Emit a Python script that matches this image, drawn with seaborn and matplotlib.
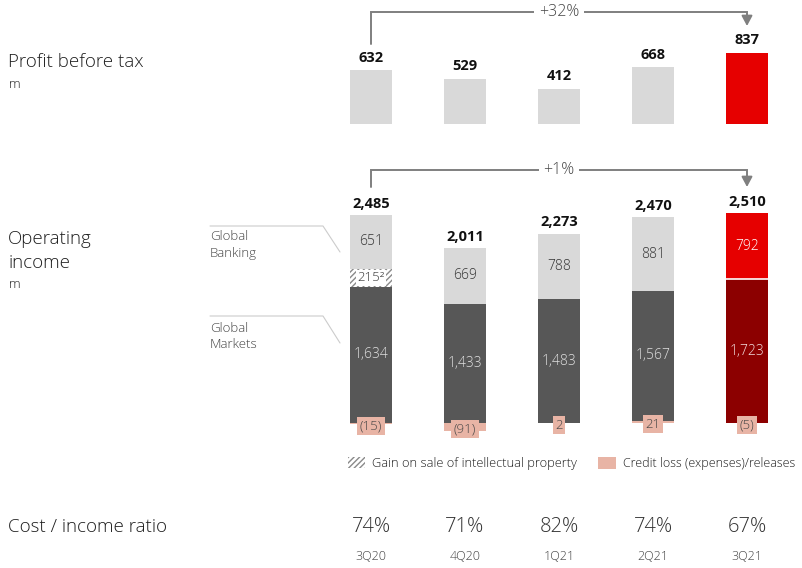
import numpy as np
import pandas as pd
import matplotlib
matplotlib.use("Agg")
import matplotlib.pyplot as plt
import seaborn as sns

# ---------------- data ----------------
quarters = ["3Q20", "4Q20", "1Q21", "2Q21", "3Q21"]
profit_before_tax = [632, 529, 412, 668, 837]
global_banking = [651, 669, 788, 881, 792]
gain_ip = [215, 0, 0, 0, 0]
global_markets = [1634, 1433, 1483, 1567, 1723]
credit_loss = [-15, -91, 2, 21, -5]
op_income_total = [2485, 2011, 2273, 2470, 2510]
cost_income = ["74%", "71%", "82%", "74%", "67%"]
pbt_change = "+32%"
oi_change = "+1%"

# ---------------- style ----------------
sns.set_style("white")
plt.rcParams["font.family"] = ["Open Sans", "DejaVu Sans"]

W, H = 803, 568
fig = plt.figure(figsize=(W / 100, H / 100), dpi=100)

LIGHT = "#d9d9d9"
DARK = "#575757"
RED = "#e60000"
DRED = "#8c0000"
PINK = "#e8b4a5"
TXT = "#1e1e1e"
LW = "light"

def px_axes(x0, y0, x1, y1):
    return fig.add_axes([x0 / W, 1 - y1 / H, (x1 - x0) / W, (y1 - y0) / H])

# overlay axes in pixel coordinates
ov = fig.add_axes([0, 0, 1, 1], zorder=5)
ov.set_xlim(0, W)
ov.set_ylim(H, 0)
ov.axis("off")
ov.patch.set_alpha(0)

BW = 0.45

# ---------------- top panel ----------------
axt = px_axes(324, 0, 794, 124)
dft = pd.DataFrame({"q": quarters, "v": profit_before_tax})
sns.barplot(data=dft, x="q", y="v", width=BW, color=LIGHT, ax=axt, saturation=1)
for i, p in enumerate(axt.patches):
    p.set_facecolor(RED if i == len(quarters) - 1 else LIGHT)
    p.set_edgecolor("none")
axt.set_xlim(-0.5, len(quarters) - 0.5)
axt.set_ylim(0, 1459)
axt.axis("off")
for i, v in enumerate(profit_before_tax):
    axt.annotate(f"{v:,}", (i, v), xytext=(0, 4), textcoords="offset points",
                 ha="center", va="bottom", fontsize=10.5, fontweight="bold", color="#111111")

# ---------------- bottom panel ----------------
axb = px_axes(324, 170, 794, 440)
cl = np.array(credit_loss, float)
gm = np.array(global_markets, float)
gi = np.array(gain_ip, float)
gb = np.array(global_banking, float)
b_gm = np.maximum(cl, 0)
b_gi = b_gm + gm
b_gb = b_gi + gi

def stack(vals, bottoms, colors, **kw):
    n0 = len(axb.patches)
    df = pd.DataFrame({"q": quarters, "v": vals})
    sns.barplot(data=df, x="q", y="v", width=BW, color=colors[0], ax=axb,
                saturation=1, bottom=bottoms, **kw)
    new = axb.patches[n0:]
    for p, c in zip(new, colors):
        p.set_facecolor(c)
    return new

stack(cl, np.zeros(5), [PINK] * 5, linewidth=0)
stack(gm, b_gm, [DARK] * 4 + [DRED], linewidth=0)
hp = stack(gi, b_gi, ["white"] * 5, linewidth=0)
for p in hp:
    p.set_hatch("//////")
    p.set_edgecolor("#8a8a8a")
    p.set_linewidth(0)
stack(gb, b_gb, [LIGHT] * 4 + [RED], linewidth=0)
axb.set_xlim(-0.5, len(quarters) - 0.5)
axb.set_ylim(-204, 3037)
axb.axis("off")

for i in range(len(quarters)):
    last = i == len(quarters) - 1
    top = b_gb[i] + gb[i]
    axb.annotate(f"{op_income_total[i]:,}", (i, top), xytext=(0, 3), textcoords="offset points",
                 ha="center", va="bottom", fontsize=10.5, fontweight="bold", color="#111111")
    axb.text(i, b_gb[i] + gb[i] / 2, f"{global_banking[i]:,}", ha="center", va="center",
             fontsize=10, fontweight=LW, color="white" if last else "#333333")
    axb.text(i, b_gm[i] + gm[i] / 2, f"{global_markets[i]:,}", ha="center", va="center",
             fontsize=10, fontweight=LW, color="#f2dede" if last else "#e0e0e0")
    if gi[i] > 0:
        axb.text(i, b_gi[i] + gi[i] / 2, f"{int(gi[i])}²", ha="center", va="center",
                 fontsize=9.5, fontweight=LW, color="#333333",
                 bbox=dict(boxstyle="square,pad=0.12", fc="white", ec="none"))
    c = credit_loss[i]
    lab = f"({abs(c)})" if c < 0 else f"{c}"
    axb.annotate(lab, (i, c / 2), xytext=(0, -1.5), textcoords="offset points",
                 ha="center", va="center", fontsize=9.5, fontweight=LW, color="#444444",
                 bbox=dict(boxstyle="square,pad=0.2", fc=PINK, ec="none"))
    if last:
        axb.plot([i - BW / 2, i + BW / 2], [b_gb[i], b_gb[i]], color="white", lw=1.2)

# x positions in pixels
def xpx(ax, i):
    return ov.transData.inverted().transform(ax.transData.transform((i, 0)))[0]

xs = [xpx(axb, i) for i in range(len(quarters))]

# ---------------- change arrows ----------------
GREY = "#7f7f7f"
def change_arrow(y_top, y_start, y_tip, label):
    x0, x1 = xs[0], xs[-1]
    ov.plot([x0, x0, x1, x1], [y_start, y_top, y_top, y_tip - 6], color=GREY, lw=1.4,
            solid_joinstyle="miter")
    ov.annotate("", xy=(x1, y_tip), xytext=(x1, y_tip - 8),
                arrowprops=dict(arrowstyle="-|>,head_width=0.32,head_length=0.6",
                                color=GREY, lw=1.4, shrinkA=0, shrinkB=0))
    ov.text((xs[2]), y_top, label, ha="center", va="center", fontsize=11.5, fontweight=LW,
            color="#444444",
            bbox=dict(boxstyle="square,pad=0.3", fc="white", ec="none"))

change_arrow(12, 44, 26, pbt_change)
change_arrow(170, 187, 187, oi_change)

# ---------------- left labels ----------------
big = dict(fontsize=13.5, fontweight=LW, color=TXT, va="center", ha="left")
ov.text(8, 62, "Profit before tax", **big)
ov.text(9, 84, "m", fontsize=9.5, fontweight=LW, color=TXT, va="center", ha="left")
ov.text(8, 239, "Operating", **big)
ov.text(8, 263, "income", **big)
ov.text(9, 284, "m", fontsize=9.5, fontweight=LW, color=TXT, va="center", ha="left")

small = dict(fontsize=9.5, fontweight=LW, color="#444444", va="center")
ov.text(210, 237, "Global", **small)
ov.text(210, 254, "Banking", **small)
ov.text(210, 328, "Global", **small)
ov.text(210, 345, "Markets", **small)
ov.plot([210, 323, 340], [226, 226, 252], color="#cccccc", lw=0.8)
ov.plot([210, 323, 340], [316, 316, 343], color="#cccccc", lw=0.8)

# ---------------- legend ----------------
ov.add_patch(plt.Rectangle((348, 457), 17, 11, fc="white", ec="#8a8a8a", lw=0, hatch="//////"))
ov.text(372, 463, "Gain on sale of intellectual property", fontsize=9.3, fontweight=LW,
        color=TXT, va="center")
ov.add_patch(plt.Rectangle((598, 457), 18, 12, fc=PINK, ec="none"))
ov.text(623, 463, "Credit loss (expenses)/releases", fontsize=9.0, fontweight=LW,
        color=TXT, va="center")

# ---------------- cost / income ----------------
ov.text(8, 527, "Cost / income ratio", **big)
for x, ci, q in zip(xs, cost_income, quarters):
    ov.text(x, 527, ci, fontsize=14.5, fontweight=LW, color="#333333", ha="center", va="center")
    ov.text(x, 556, q, fontsize=9, fontweight=LW, color="#444444", ha="center", va="center")

fig.savefig("out.png", dpi=100, facecolor="white")
